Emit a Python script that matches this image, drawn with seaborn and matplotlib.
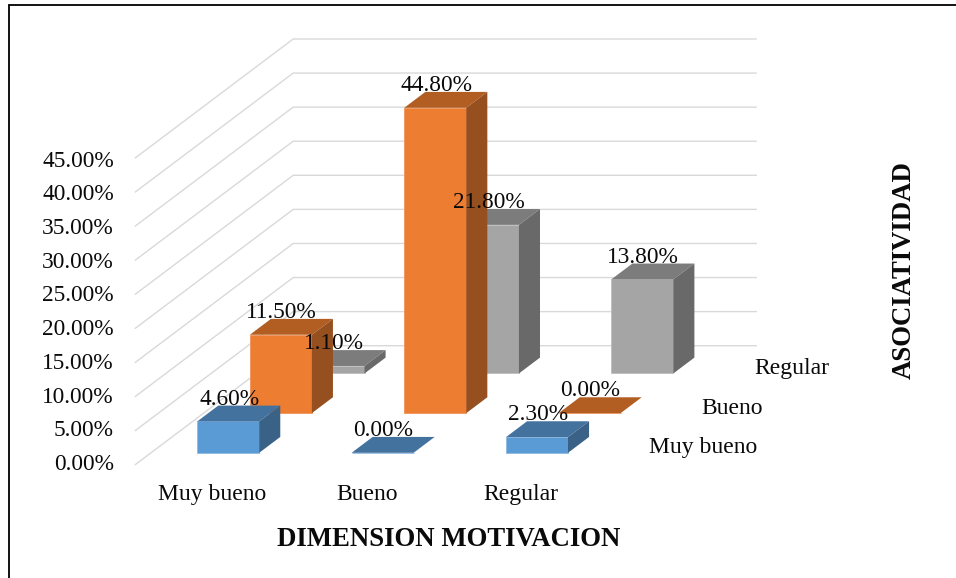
import numpy as np
import pandas as pd
import matplotlib
matplotlib.use('Agg')
import matplotlib.pyplot as plt
import seaborn as sns
from matplotlib.lines import Line2D
from matplotlib.patches import Polygon

categorias = ["Muy bueno", "Bueno", "Regular"]
series = ["Muy bueno", "Bueno", "Regular"]
muy_bueno = [4.6, 0.0, 2.3]
bueno = [11.5, 44.8, 0.0]
regular = [1.1, 21.8, 13.8]
ticks_y = [0, 5, 10, 15, 20, 25, 30, 35, 40, 45]

# front, top, side colors per series
colores = {
    "Muy bueno": ("#5B9BD5", "#44729F", "#3A6186"),
    "Bueno": ("#ED7D31", "#B25E22", "#964F1E"),
    "Regular": ("#A5A5A5", "#7C7C7C", "#696969"),
}
bordes = {"Muy bueno": "#8DB9E2", "Bueno": "#F0935A", "Regular": "#BDBDBD"}

W, H = 956, 578
PX_X = 154.4    # pixels per category
PX_Y = 6.816    # pixels per percent
X0 = 228.2      # pixel of category 0 in the front row
Y0 = 452.8      # pixel of 0% in the front row

# oblique projection, in data units
paso_x = 158 / PX_X / 3
paso_y = 119 / PX_Y / 3
fondo = 0.4     # bar depth, fraction of a row
margen = 0.3    # gap before the first row
FS = 16.8
FS_CAT = 17
NEGRO = "#0A0A0A"


def px_x(p):
    return (p - X0) / PX_X


def px_y(p):
    return (Y0 - p) / PX_Y


sns.set_theme(style="white")
plt.rcParams['font.family'] = ['Liberation Serif', 'DejaVu Serif']

fig = plt.figure(figsize=(W / 100, H / 100), dpi=100)
ax = fig.add_axes([0, 0, 1, 1])

df = pd.DataFrame({
    "categoria": categorias * 3,
    "serie": np.repeat(series, 3),
    "valor": muy_bueno + bueno + regular,
    "fila": np.repeat([0, 1, 2], 3),
    "pos": list(range(3)) * 3,
})

# back rows first so the front ones cover them
for fila, serie in reversed(list(enumerate(series))):
    d = df[df["serie"] == serie].copy()
    d["x"] = d["pos"] + fila * paso_x
    z = 6 - fila
    antes = len(ax.patches)
    sns.barplot(data=d, x="x", y="valor", native_scale=True, width=62 / PX_X,
                color=colores[serie][0], saturation=1, errorbar=None, ax=ax,
                bottom=fila * paso_y, zorder=z,
                edgecolor=bordes[serie], linewidth=0.6)
    dx = fondo * paso_x
    dy = fondo * paso_y
    for barra, v in zip(ax.patches[antes:], d["valor"]):
        x1 = barra.get_x()
        x2 = x1 + barra.get_width()
        y1 = barra.get_y()
        y2 = y1 + v
        ax.add_patch(Polygon([(x1, y2), (x2, y2), (x2 + dx, y2 + dy), (x1 + dx, y2 + dy)],
                             facecolor=colores[serie][1], edgecolor="none", zorder=z))
        ax.add_patch(Polygon([(x2, y1), (x2 + dx, y1 + dy), (x2 + dx, y2 + dy), (x2, y2)],
                             facecolor=colores[serie][2], edgecolor="none", zorder=z))
        ax.text((x1 + x2) / 2 + 0.006, y2 + dy + 0.95, f"{v:.2f}%", ha="center", va="center",
                fontsize=FS, color=NEGRO, zorder=10)

# walls
x_frente = -0.5 - margen * paso_x
y_frente = -margen * paso_y
for t in ticks_y:
    ax.plot([x_frente, x_frente + 3 * paso_x, x_frente + 3 * paso_x + 3],
            [t + y_frente, t + y_frente + 3 * paso_y, t + y_frente + 3 * paso_y],
            color="#D9D9D9", lw=1.0, zorder=0.5)
    # labels in the reference run on a slightly tighter step than the grid
    ax.text(px_x(114), px_y(464.5) + t * 6.744 / PX_Y, f"{t:.2f}%", ha="right", va="center",
            fontsize=FS, color=NEGRO)

for i, c in enumerate(categorias):
    ax.text(i + x_frente + 0.5, px_y(494.5), c, ha="center", va="center",
            fontsize=FS_CAT, color=NEGRO)

for fila, s in enumerate(series):
    ax.text(px_x(649) + fila * paso_x, px_y(448) + fila * paso_y, s, ha="left", va="center",
            fontsize=FS_CAT, color=NEGRO)

ax.text(px_x(449), px_y(540), "DIMENSION MOTIVACION", ha="center", va="center",
        fontsize=19.3, fontweight="bold", color=NEGRO)
ax.text(px_x(904), px_y(270), "ASOCIATIVIDAD", ha="center", va="center", rotation=90,
        fontsize=19.3, fontweight="bold", color=NEGRO)

ax.set_xlim(px_x(0), px_x(W))
ax.set_ylim(px_y(H), px_y(0))
ax.axis("off")

# outer border, only top and left show in the crop
fig.add_artist(Line2D([8.5 / W, 8.5 / W], [0, 1 - 5.3 / H], color="black", lw=1.3))
fig.add_artist(Line2D([8.5 / W, 955.7 / W], [1 - 5.3 / H, 1 - 5.3 / H], color="black", lw=1.3))

plt.savefig("out.png", dpi=100)
plt.close()
